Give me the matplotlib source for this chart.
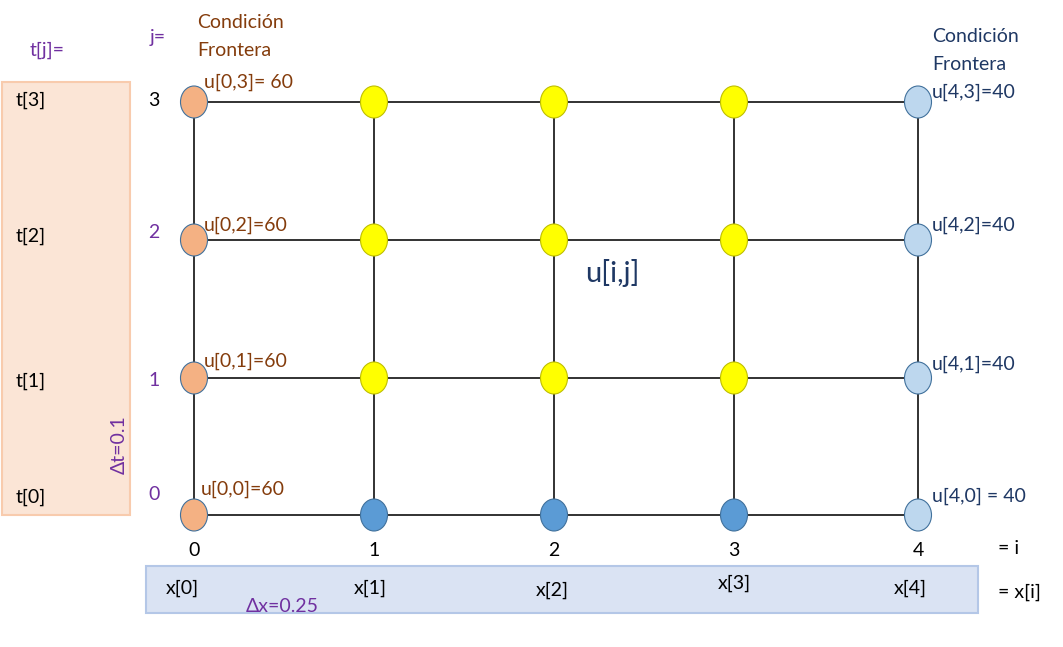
import matplotlib
matplotlib.use("Agg")
import matplotlib.pyplot as plt
from matplotlib.patches import Ellipse, Rectangle

plt.rcParams['font.family'] = ['Lato', 'DejaVu Sans']

i_idx = [0, 1, 2, 3, 4]
j_idx = [0, 1, 2, 3]
x_labels = ["x[0]", "x[1]", "x[2]", "x[3]", "x[4]"]
t_labels = ["t[0]", "t[1]", "t[2]", "t[3]"]
left_bc = ["u[0,0]=60", "u[0,1]=60", "u[0,2]=60", "u[0,3]= 60"]
right_bc = ["u[4,0] = 40", "u[4,1]=40", "u[4,2]=40", "u[4,3]=40"]

xp = [194, 374, 554, 734, 918]
yp = [515, 378, 240, 102]

fig = plt.figure(figsize=(10.63, 6.47), dpi=100)
ax = fig.add_axes([0, 0, 1, 1])
ax.set_xlim(0, 1063); ax.set_ylim(647, 0); ax.axis("off")

brown = "#843C0C"; navy = "#1F3864"; purple = "#7030A0"; fs = 14

ax.add_patch(Rectangle((2, 82), 128, 433, fc="#FBE5D6", ec="#F8CBAD", lw=1.5, zorder=0))
ax.add_patch(Rectangle((146, 566), 832, 47, fc="#DAE3F3", ec="#B4C7E7", lw=1.5, zorder=0))

for y in yp:
    ax.plot([xp[0], xp[-1]], [y, y], color="#222222", lw=1.3, zorder=1)
for x in xp:
    ax.plot([x, x], [yp[0], yp[-1]], color="#222222", lw=1.3, zorder=1)

for a, i in enumerate(i_idx):
    for b, j in enumerate(j_idx):
        if i == 0: c = "#F4B183"
        elif i == 4: c = "#BDD7EE"
        elif j == 0: c = "#5B9BD5"
        else: c = "#FFFF00"
        ax.add_patch(Ellipse((xp[a], yp[b]), 27, 32, fc=c, ec="#41719C" if i in (0, 4) or j == 0 else "#BFBF00", lw=0.8, zorder=2))

for a, i in enumerate(i_idx):
    ax.text(xp[a], 550, str(i), fontsize=fs, ha="center", va="center")
xl_y = [588, 588, 590, 583, 588]
xl_x = [182, 370, 552, 734, 910]
for a in range(5):
    ax.text(xl_x[a], xl_y[a], x_labels[a], fontsize=fs, ha="center", va="center")
ax.text(998, 548, "= i", fontsize=fs, va="center")
ax.text(998, 592, "= x[i]", fontsize=fs, va="center")
ax.text(246, 606, "Δx=0.25", fontsize=fs, color=purple, va="center")

t_y = [497, 381, 236, 100]
j_y = [495, 380, 233, 100]
for b, j in enumerate(j_idx):
    ax.text(154, j_y[b], str(j), fontsize=fs, ha="center", va="center",
            color="black" if j == 3 else purple)
    ax.text(16, t_y[b], t_labels[b], fontsize=fs, va="center")
ax.text(158, 38, "j=", fontsize=fs, ha="center", va="center", color=purple)
ax.text(30, 50, "t[j]=", fontsize=fs, va="center", color=purple)
ax.text(119, 445, "Δt=0.1", fontsize=fs, color=purple, rotation=90, ha="center", va="center")

lb_y = [489, 361, 225, 82]
for b in range(4):
    ax.text(201 if b == 0 else 204, lb_y[b], left_bc[b], fontsize=fs, color=brown, va="center")
ax.text(197, 22, "Condición", fontsize=fs, color=brown, va="center")
ax.text(197, 51, "Frontera", fontsize=fs, color=brown, va="center")

rb_y = [496, 364, 225, 92]
for b in range(4):
    ax.text(932, rb_y[b], right_bc[b], fontsize=fs, color=navy, va="center")
ax.text(932, 36, "Condición", fontsize=fs, color=navy, va="center")
ax.text(932, 65, "Frontera", fontsize=fs, color=navy, va="center")

ax.text(612, 273, "u[i,j]", fontsize=21, color=navy, ha="center", va="center")

fig.savefig("out.png", dpi=100)
